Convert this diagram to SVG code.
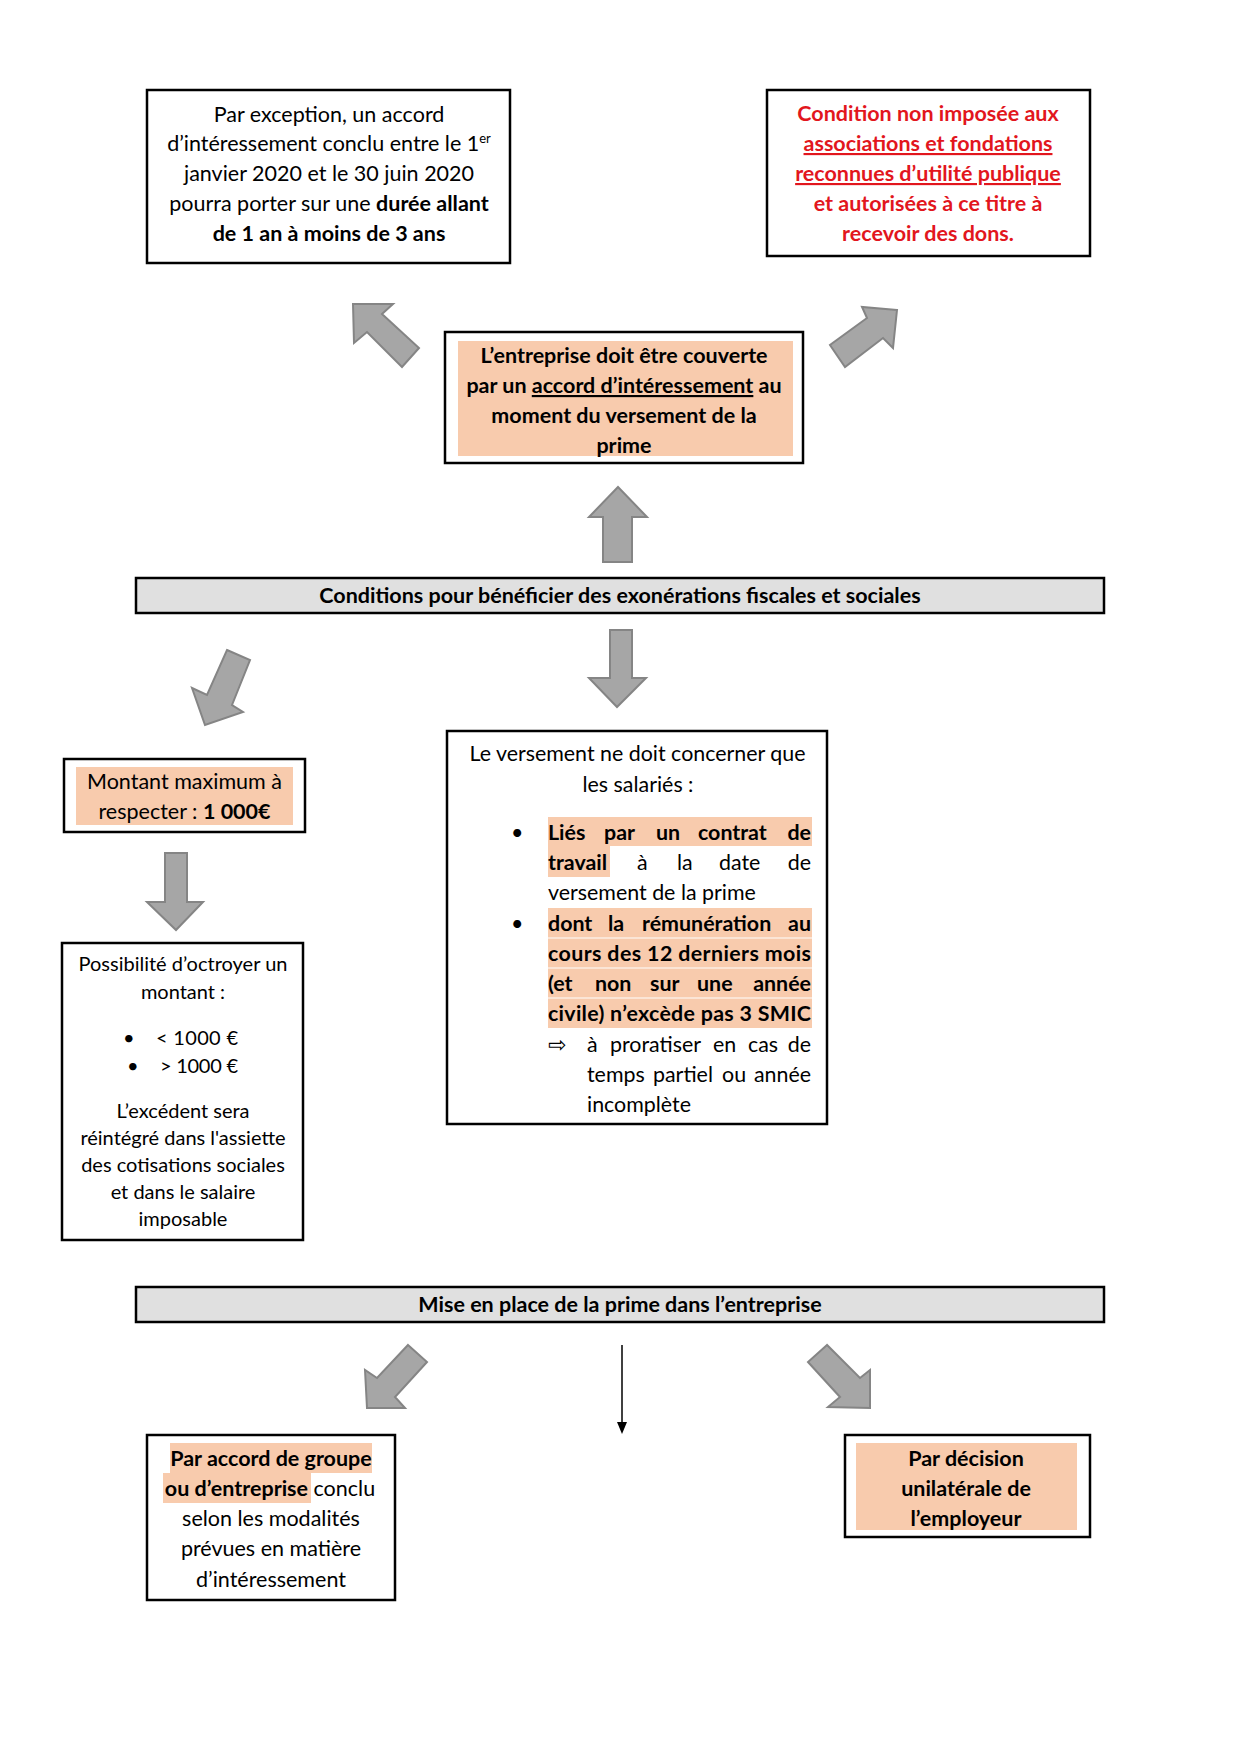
<svg xmlns="http://www.w3.org/2000/svg" width="1240" height="1754" viewBox="0 0 1240 1754">
<style>
  text { font-family: Lato, "Open Sans", "Liberation Sans", sans-serif; fill: #000; }
  .box { fill: #fff; stroke: #000; stroke-width: 2.5; }
  .banner { fill: #e0e0e0; stroke: #000; stroke-width: 2.5; }
  .hl { fill: #f8cbad; }
  .arrow { fill: #a6a6a6; stroke: #858585; stroke-width: 2; stroke-linejoin: miter; }
  .c { text-anchor: middle; }
  .e { text-anchor: end; }
  .b { font-weight: bold; }
  .red { fill: #e2161d; font-weight: bold; }
  .u { text-decoration: underline; }
  .t1 { font-size: 21.5px; }
  .t2 { font-size: 20px; }
  .t3 { font-size: 21.4px; }
</style>
<defs>
  <marker id="thinhead" markerWidth="12" markerHeight="10" refX="0" refY="5" orient="auto" markerUnits="userSpaceOnUse" viewBox="0 0 12 10">
    <path d="M0,0 L12,5 L0,10 Z" fill="#000"/>
  </marker>
</defs>
<rect width="1240" height="1754" fill="#fff"/>

<g id="connectors">
  <polygon class="arrow" points="353,304 393,304 382,314 419,348 402,367 367,332 354,343"/>
  <polygon class="arrow" points="897,310 862,307 867,318 830,345 845,367 883,338 893,348"/>
  <polygon class="arrow" points="618,487 647,517 632,517 632,562 603,562 603,517 589,517"/>
  <polygon class="arrow" points="610,630 632,630 632,678 646,678 617,707 589,678 610,678"/>
  <polygon class="arrow" points="227,650 250,660 232,705 243,712 205,725 192,688 207,695"/>
  <polygon class="arrow" points="165,853 187,853 187,902 203,902 176,930 147,902 165,902"/>
  <polygon class="arrow" points="408,1345 427,1362 395,1397 405,1408 367,1408 365,1370 377,1378"/>
  <polygon class="arrow" points="827,1345 808,1362 840,1397 828,1407 870,1408 870,1370 860,1378"/>
  <line x1="622" y1="1345" x2="622" y2="1422" stroke="#000" stroke-width="1.5" marker-end="url(#thinhead)"/>
</g>

<g id="node-exception">
  <rect class="box" x="147" y="90" width="363" height="173"/>
  <text class="c t1" x="329" y="122">Par exception, un accord</text>
  <text class="c t1" x="329" y="151">d’intéressement conclu entre le 1<tspan font-size="13" dy="-8">er</tspan></text>
  <text class="c t1" x="329" y="181">janvier 2020 et le 30 juin 2020</text>
  <text class="c t1" x="329" y="211">pourra porter sur une <tspan class="b">durée allant</tspan></text>
  <text class="c b t1" x="329" y="241">de 1 an à moins de 3 ans</text>
</g>

<g id="node-associations">
  <rect class="box" x="767" y="90" width="323" height="166"/>
  <text class="c red t1" x="928" y="121">Condition non imposée aux</text>
  <text class="c red u t1" x="928" y="151">associations et fondations</text>
  <text class="c red u t1" x="928" y="181">reconnues d’utilité publique</text>
  <text class="c red t1" x="928" y="211">et autorisées à ce titre à</text>
  <text class="c red t1" x="928" y="241">recevoir des dons.</text>
</g>

<g id="node-accord">
  <rect class="box" x="445" y="332" width="358" height="131"/>
  <rect class="hl" x="458" y="341" width="335" height="115"/>
  <text class="c b t1" x="624" y="363">L’entreprise doit être couverte</text>
  <text class="c b t1" x="624" y="393">par un <tspan class="u">accord d’intéressement</tspan> au</text>
  <text class="c b t1" x="624" y="423">moment du versement de la</text>
  <text class="c b t1" x="624" y="453">prime</text>
</g>

<g id="node-conditions">
  <rect class="banner" x="136" y="578" width="968" height="35"/>
  <text class="c b t1" x="620" y="603">Conditions pour bénéficier des exonérations fiscales et sociales</text>
</g>

<g id="node-montant">
  <rect class="box" x="64" y="759" width="241" height="73"/>
  <rect class="hl" x="76" y="767" width="217" height="58"/>
  <text class="c t1" x="184.5" y="789">Montant maximum à</text>
  <text class="c t1" x="184.5" y="819">respecter : <tspan class="b">1 000€</tspan></text>
</g>

<g id="node-possibilite">
  <rect class="box" x="62" y="943" width="241" height="297"/>
  <text class="c t2" x="183" y="971">Possibilité d’octroyer un</text>
  <text class="c t2" x="183" y="999">montant :</text>
  <text class="t2" x="123" y="1045">•</text>
  <text class="t2" x="156" y="1045" textLength="82" lengthAdjust="spacing">&lt; 1000 €</text>
  <text class="t2" x="127" y="1073">•</text>
  <text class="t2" x="160" y="1073" textLength="78" lengthAdjust="spacing">&gt; 1000 €</text>
  <text class="c t2" x="183" y="1118">L’excédent sera</text>
  <text class="c t2" x="183" y="1145">réintégré dans l'assiette</text>
  <text class="c t2" x="183" y="1172">des cotisations sociales</text>
  <text class="c t2" x="183" y="1199">et dans le salaire</text>
  <text class="c t2" x="183" y="1226">imposable</text>
</g>

<g id="node-salaries">
  <rect class="box" x="447" y="731" width="380" height="393"/>
  <rect class="hl" x="548" y="817" width="264" height="29"/>
  <rect class="hl" x="548" y="846" width="62" height="31"/>
  <rect class="hl" x="548" y="908" width="264" height="29.5"/>
  <rect class="hl" x="548" y="938.5" width="264" height="29"/>
  <rect class="hl" x="548" y="968.5" width="264" height="29"/>
  <rect class="hl" x="548" y="998.5" width="264" height="29.5"/>
  <text class="c t3" x="637.5" y="761">Le versement ne doit concerner que</text>
  <text class="c t3" x="638" y="792">les salariés :</text>
  <text class="t3" x="511" y="840">•</text>
  <text class="b t3" y="840"><tspan x="548">Liés</tspan><tspan x="604">par</tspan><tspan x="656">un</tspan><tspan x="698">contrat</tspan></text>
  <text class="b t3 e" x="811" y="840">de</text>
  <text class="t3" y="870"><tspan class="b" x="548">travail</tspan><tspan x="637">à</tspan><tspan x="677">la</tspan><tspan x="719">date</tspan></text>
  <text class="t3 e" x="811" y="870">de</text>
  <text class="t3" x="548" y="900">versement de la prime</text>
  <text class="t3" x="511" y="931">•</text>
  <text class="b t3" y="931"><tspan x="548">dont</tspan><tspan x="608">la</tspan><tspan x="642">rémunération</tspan></text>
  <text class="b t3 e" x="811" y="931">au</text>
  <text class="b t3" x="548" y="961" textLength="263" lengthAdjust="spacing">cours des 12 derniers mois</text>
  <text class="b t3" y="991"><tspan x="548">(et</tspan><tspan x="595">non</tspan><tspan x="650">sur</tspan><tspan x="697">une</tspan></text>
  <text class="b t3 e" x="811" y="991">année</text>
  <text class="b t3" x="548" y="1021" textLength="263" lengthAdjust="spacing">civile)  n’excède pas 3 SMIC</text>
  <text x="548" y="1052" style="font-family: 'DejaVu Sans', sans-serif; font-size: 22px;">⇨</text>
  <text class="t3" y="1052"><tspan x="587">à</tspan><tspan x="610">proratiser</tspan><tspan x="713">en</tspan><tspan x="748">cas</tspan></text>
  <text class="t3 e" x="811" y="1052">de</text>
  <text class="t3" y="1082"><tspan x="587">temps</tspan><tspan x="653">partiel</tspan><tspan x="722">ou</tspan></text>
  <text class="t3 e" x="811" y="1082">année</text>
  <text class="t3" x="587" y="1112">incomplète</text>
</g>

<g id="node-miseenplace">
  <rect class="banner" x="136" y="1287" width="968" height="35"/>
  <text class="c b t1" x="620" y="1312">Mise en place de la prime dans l’entreprise</text>
</g>

<g id="node-accordgroupe">
  <rect class="box" x="147" y="1435" width="248" height="165"/>
  <rect class="hl" x="170" y="1443" width="202" height="30"/>
  <rect class="hl" x="163" y="1473" width="148" height="30"/>
  <text class="c b t1" x="271" y="1466">Par accord de groupe</text>
  <text class="c t1" x="270" y="1496"><tspan class="b">ou d’entreprise</tspan> conclu</text>
  <text class="c t1" x="271" y="1526">selon les modalités</text>
  <text class="c t1" x="271" y="1556">prévues en matière</text>
  <text class="c t1" x="271" y="1587">d’intéressement</text>
</g>

<g id="node-unilaterale">
  <rect class="box" x="845" y="1435" width="245" height="102"/>
  <rect class="hl" x="856" y="1443" width="221" height="87"/>
  <text class="c b t1" x="966" y="1466">Par décision</text>
  <text class="c b t1" x="966" y="1496">unilatérale de</text>
  <text class="c b t1" x="966" y="1526">l’employeur</text>
</g>
</svg>
